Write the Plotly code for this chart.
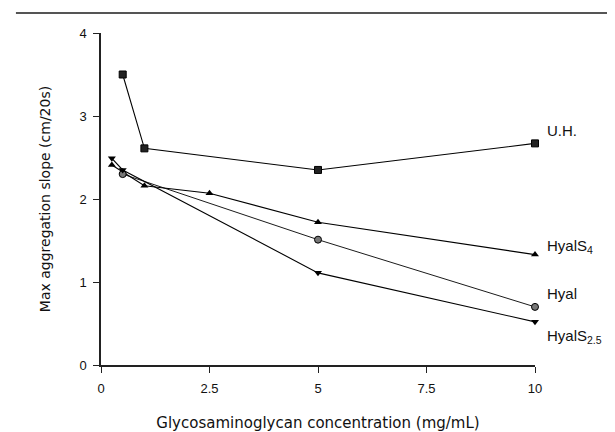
import plotly.graph_objects as go

# Data
uh_x = [0.5, 1.0, 5.0, 10.0]
uh_y = [3.50, 2.61, 2.35, 2.67]

hyals4_x = [0.25, 0.5, 1.0, 2.5, 5.0, 10.0]
hyals4_y = [2.41, 2.33, 2.16, 2.07, 1.72, 1.33]

hyal_x = [0.5, 5.0, 10.0]
hyal_y = [2.30, 1.51, 0.70]

hyals25_x = [0.25, 0.5, 5.0, 10.0]
hyals25_y = [2.49, 2.35, 1.11, 0.52]

series_labels = ["U.H.", "HyalS<sub>4</sub>", "Hyal", "HyalS<sub>2.5</sub>"]
label_y = [2.82, 1.43, 0.86, 0.34]

x_ticks = [0, 2.5, 5, 7.5, 10]
x_tick_text = ["0", "2.5", "5", "7.5", "10"]
y_ticks = [0, 1, 2, 3, 4]

FONT = "Liberation Sans, Arial, sans-serif"

fig = go.Figure()

common_line = dict(color="black", width=1.1)
fig.add_trace(go.Scatter(x=uh_x, y=uh_y, mode="lines+markers", line=common_line,
                         marker=dict(symbol="square", size=7, color="#222",
                                     line=dict(color="black", width=1)),
                         cliponaxis=False, name="U.H."))
fig.add_trace(go.Scatter(x=hyals4_x, y=hyals4_y, mode="lines+markers", line=common_line,
                         marker=dict(symbol="triangle-up", size=7, color="black"),
                         cliponaxis=False, name="HyalS4"))
fig.add_trace(go.Scatter(x=hyal_x, y=hyal_y, mode="lines+markers", line=dict(color="black", width=0.9),
                         marker=dict(symbol="circle", size=7, color="#777",
                                     line=dict(color="black", width=1)),
                         cliponaxis=False, name="Hyal"))
fig.add_trace(go.Scatter(x=hyals25_x, y=hyals25_y, mode="lines+markers", line=common_line,
                         marker=dict(symbol="triangle-down", size=7, color="black"),
                         cliponaxis=False, name="HyalS2.5"))

for txt, yv in zip(series_labels, label_y):
    fig.add_annotation(x=1.023, y=yv, xref="paper", yref="y", text=txt, showarrow=False,
                       xanchor="left", yanchor="middle",
                       font=dict(family=FONT, size=15, color="#111"))

# top rule
fig.add_shape(type="line", xref="paper", yref="paper", x0=-0.196, x1=1.21, y0=1.06, y1=1.06,
              line=dict(color="#555", width=2))

fig.update_layout(
    width=615, height=432,
    margin=dict(l=93, r=88, t=25, b=75),
    paper_bgcolor="white", plot_bgcolor="white",
    showlegend=False,
    font=dict(family=FONT, size=13, color="#111"),
    xaxis=dict(range=[0, 10], tickvals=x_ticks, ticktext=x_tick_text,
               showgrid=False, zeroline=False, showline=True, linecolor="#222", linewidth=1.5,
               ticks="outside", ticklen=6, tickcolor="#222", tickwidth=1,
               tickfont=dict(size=13), ticklabelstandoff=5,
               title=dict(text="Glycosaminoglycan concentration (mg/mL)",
                          font=dict(family="DejaVu Sans, sans-serif", size=15), standoff=22)),
    yaxis=dict(range=[0, 4], tickvals=y_ticks,
               showgrid=False, zeroline=False, showline=True, linecolor="#222", linewidth=1.5,
               ticks="outside", ticklen=6, tickcolor="#222", tickwidth=1,
               tickfont=dict(size=13), ticklabelstandoff=4,
               title=dict(text="Max aggregation slope (cm/20s)",
                          font=dict(family="DejaVu Sans, sans-serif", size=14), standoff=26)),
)

fig.write_html("out.html")
